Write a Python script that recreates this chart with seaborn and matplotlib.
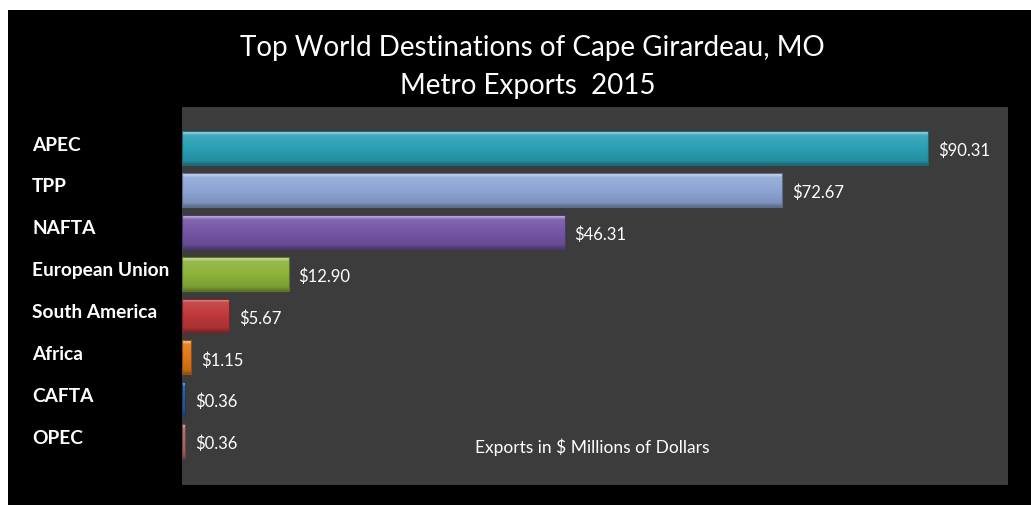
import numpy as np
import pandas as pd
import matplotlib
matplotlib.use("Agg")
import matplotlib.pyplot as plt
import matplotlib.colors as mcolors
from matplotlib.patches import Rectangle
import seaborn as sns

categories = ["APEC", "TPP", "NAFTA", "European Union", "South America",
              "Africa", "CAFTA", "OPEC"]
values = [90.31, 72.67, 46.31, 12.90, 5.67, 1.15, 0.36, 0.36]
value_labels = ["$90.31", "$72.67", "$46.31", "$12.90", "$5.67",
                "$1.15", "$0.36", "$0.36"]
bar_colors = ["#2aa0b5", "#8ea6d6", "#7456a6", "#8cb33a", "#c0383a",
              "#e07818", "#2a5a98", "#b06868"]
title_lines = ["Top World Destinations of Cape Girardeau, MO", "Metro Exports  2015"]
note = "Exports in $ Millions of Dollars"

sns.set_theme(style="dark")
plt.rcParams["font.family"] = ["Lato", "DejaVu Sans"]

W, H = 1031, 506
fig = plt.figure(figsize=(W / 100, H / 100), dpi=100, facecolor="white")
fig.patches.append(Rectangle((8 / W, 0), 1 - 8 / W, (H - 11) / H,
                             transform=fig.transFigure, facecolor="black",
                             edgecolor="none", zorder=-10))

ax = fig.add_axes([182 / W, (H - 486) / H, (1008 - 182) / W, (486 - 108) / H])
ax.set_facecolor("#3c3c3c")

df = pd.DataFrame({"region": categories, "value": values})
sns.barplot(data=df, x="value", y="region", hue="region", palette=bar_colors,
            orient="h", width=0.81, legend=False, ax=ax, saturation=1,
            edgecolor="none")

ax.set_xticks([])
ax.set_yticks([])
ax.set_xlabel("")
ax.set_ylabel("")
for s in ax.spines.values():
    s.set_visible(False)


def shade(c, f):
    rgb = np.array(mcolors.to_rgb(c))
    if f >= 0:
        return rgb + (1 - rgb) * f
    return rgb * (1 + f)


# gradient / bevel on each bar
for patch, col in zip(list(ax.patches), bar_colors):
    x0, y0 = patch.get_x(), patch.get_y()
    w, h = patch.get_width(), patch.get_height()
    t = np.linspace(0, 1, 64)
    fac = np.interp(t, [0, 0.05, 0.12, 0.5, 0.88, 1.0],
                    [0.6, 0.45, 0.1, 0.0, -0.12, -0.35])
    grad = np.array([shade(col, f) for f in fac])[:, None, :]
    im = ax.imshow(grad, extent=(x0, x0 + w, y0 + h, y0), aspect="auto",
                   interpolation="bilinear", zorder=patch.get_zorder() + 0.1)
    im.set_clip_path(patch)
    ax.add_patch(Rectangle((x0, y0), w, h, facecolor="none",
                           edgecolor=shade(col, -0.35), linewidth=0.8,
                           zorder=patch.get_zorder() + 0.2))
ax.set_xlim(0, 100)
ax.set_ylim(8.05, -0.98)

for i, (v, lab) in enumerate(zip(values, value_labels)):
    ax.annotate(lab, xy=(v, i), xytext=(10, -2), textcoords="offset pixels",
                ha="left", va="center", color="white", fontsize=12)

for i, cat in enumerate(categories):
    ax.annotate(cat, xy=(0, i), xycoords=("figure fraction", "data"),
                xytext=(32, 4), textcoords="offset pixels", ha="left",
                va="center", color="white", fontsize=13.8, fontweight="bold")

fig.text(532 / W, 1 - 48 / H, title_lines[0], ha="center", va="center",
         color="white", fontsize=20)
fig.text(528 / W, 1 - 86 / H, title_lines[1], ha="center", va="center",
         color="white", fontsize=20)
fig.text(592 / W, 1 - 447 / H, note, ha="center", va="center",
         color="white", fontsize=12.5)

fig.savefig("out.png", dpi=100, facecolor=fig.get_facecolor())
